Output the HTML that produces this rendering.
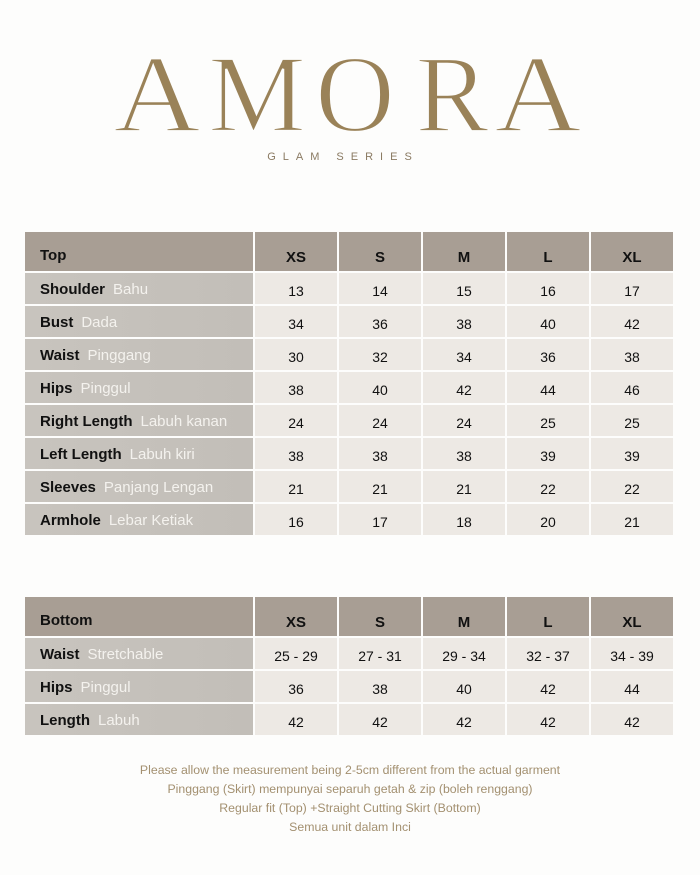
<!DOCTYPE html>
<html><head><meta charset="utf-8"><style>
body{margin:0;width:700px;height:875px;background:#fdfdfc;position:relative;overflow:hidden;font-family:"Liberation Sans",sans-serif}
.c{position:absolute;box-sizing:border-box;display:flex;align-items:center;justify-content:center;font-size:14px;color:#111;padding-top:5px}
.h{background:#a89e94;font-weight:bold;font-size:15px;padding-top:12px}
.l{background:linear-gradient(90deg,#c8c4be,#c2beb8);justify-content:flex-start;padding-left:15px;font-size:15px;padding-top:2px}
.l b{color:#111;margin-right:8px}.l span{color:#f4f2ee}
.d{background:#ede9e4}
.ft{position:absolute;left:0;width:700px;text-align:center;color:#a39070;font-size:12.3px}
</style></head><body>
<svg style="position:absolute;left:0;top:0" width="700" height="200">
<g font-family="Liberation Serif,serif" font-size="110" fill="#9a8258" text-anchor="middle" stroke="#fdfdfc" stroke-width="2.2">
<text x="157" y="131" transform="translate(157 0) scale(1.1 1) translate(-157 0)">A</text>
<text x="257" y="131">M</text>
<text x="355" y="131">O</text>
<text x="452" y="131">R</text>
<text x="538" y="131" transform="translate(538 0) scale(1.1 1) translate(-538 0)">A</text>
</g>
<text x="343" y="160" font-family="Liberation Sans,sans-serif" font-size="11" fill="#8a7a62" text-anchor="middle" letter-spacing="7">GLAM SERIES</text>
</svg>
<div id="t"></div>
<div class="ft" style="top:763px">Please allow the measurement being 2-5cm different from the actual garment</div>
<div class="ft" style="top:782px">Pinggang (Skirt) mempunyai separuh getah &amp; zip (boleh renggang)</div>
<div class="ft" style="top:801px">Regular fit (Top) +Straight Cutting Skirt (Bottom)</div>
<div class="ft" style="top:820px">Semua unit dalam Inci</div>
<script>
const cols=[[25,228],[255,82],[339,82],[423,82],[507,82],[591,82]];
let h='';
function table(y0,title,rows){
 h+=`<div class="c h l" style="left:25px;top:${y0}px;width:228px;height:39px;background:#a89e94;align-items:flex-start;padding-top:15px"><b>${title}</b></div>`;
 ['XS','S','M','L','XL'].forEach((s,i)=>{h+=`<div class="c h" style="left:${cols[i+1][0]}px;top:${y0}px;width:82px;height:39px">${s}</div>`});
 rows.forEach((r,j)=>{const y=y0+41+j*33;
  h+=`<div class="c l" style="left:25px;top:${y}px;width:228px;height:31px"><b>${r[0]}</b><span>${r[1]}</span></div>`;
  r[2].forEach((v,i)=>{h+=`<div class="c d" style="left:${cols[i+1][0]}px;top:${y}px;width:82px;height:31px">${v}</div>`});
 });
}
table(232,'Top',[
['Shoulder','Bahu',[13,14,15,16,17]],['Bust','Dada',[34,36,38,40,42]],['Waist','Pinggang',[30,32,34,36,38]],['Hips','Pinggul',[38,40,42,44,46]],
['Right Length','Labuh kanan',[24,24,24,25,25]],['Left Length','Labuh kiri',[38,38,38,39,39]],['Sleeves','Panjang Lengan',[21,21,21,22,22]],['Armhole','Lebar Ketiak',[16,17,18,20,21]]]);
table(597,'Bottom',[['Waist','Stretchable',['25 - 29','27 - 31','29 - 34','32 - 37','34 - 39']],['Hips','Pinggul',[36,38,40,42,44]],['Length','Labuh',[42,42,42,42,42]]]);
document.getElementById('t').innerHTML=h;
</script>
</body></html>
